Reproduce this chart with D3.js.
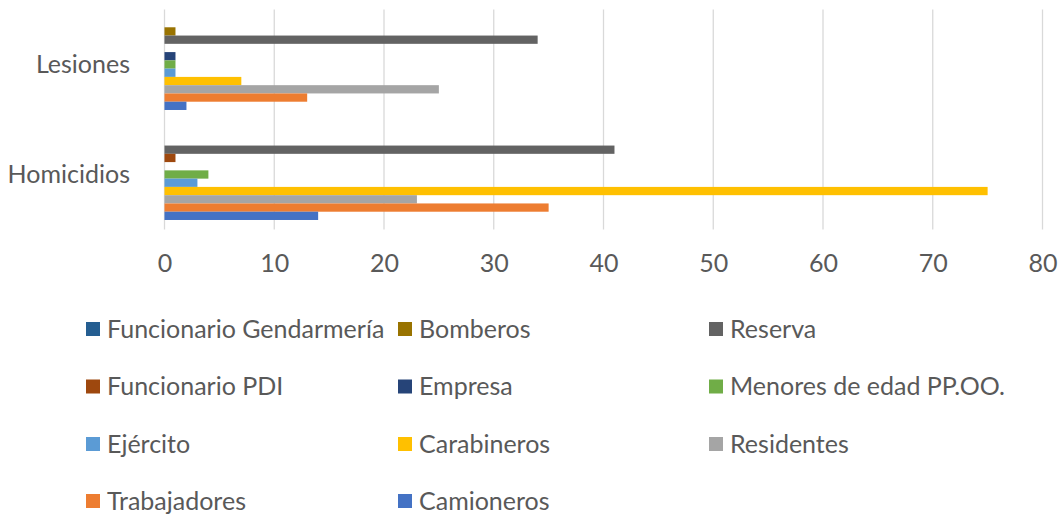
<!DOCTYPE html>
<html>
<head>
<meta charset="utf-8">
<script src="https://cdn.jsdelivr.net/npm/d3@7"></script>
<style>
  html, body { margin: 0; padding: 0; background: #ffffff; }
  svg { display: block; }
  text { font-family: Lato, "Open Sans", sans-serif; fill: #595959; }
</style>
</head>
<body>
<svg id="chart" width="1060" height="514"></svg>
<script>
// Categories, drawn top to bottom
const categories = ["Lesiones", "Homicidios"];

// Series, in the order they appear inside each group (top to bottom) and in the legend
const seriesNames = [
  "Funcionario Gendarmería", "Bomberos", "Reserva",
  "Funcionario PDI", "Empresa", "Menores de edad PP.OO.",
  "Ejército", "Carabineros", "Residentes",
  "Trabajadores", "Camioneros"
];

// Counts per series for each category
const lesiones   = [0, 1, 34, 0, 1, 1, 1, 7, 25, 13, 2];
const homicidios = [0, 0, 41, 1, 0, 4, 3, 75, 23, 35, 14];

const seriesColors = [
  "#255E91", "#997300", "#636363",
  "#9E480E", "#264478", "#70AD47",
  "#5B9BD5", "#FFC000", "#A5A5A5",
  "#ED7D31", "#4472C4"
];

const xTicks = [0, 10, 20, 30, 40, 50, 60, 70, 80];

const valuesByCategory = { "Lesiones": lesiones, "Homicidios": homicidios };

const svg = d3.select("#chart");
const plot = { left: 164.5, right: 1042.5, top: 9.5, bottom: 229.5 };

const x = d3.scaleLinear().domain([0, 80]).range([plot.left, plot.right]);
const y = d3.scaleBand().domain(categories)
  .range([plot.top, plot.bottom])
  .paddingInner(0.173).paddingOuter(0.0865);
const ySeries = d3.scaleBand().domain(seriesNames).range([0, y.bandwidth()]);
const color = d3.scaleOrdinal().domain(seriesNames).range(seriesColors);

// Vertical gridlines
svg.append("g")
  .selectAll("line")
  .data(xTicks)
  .join("line")
  .attr("x1", d => x(d)).attr("x2", d => x(d))
  .attr("y1", plot.top).attr("y2", plot.bottom)
  .attr("stroke", "#D9D9D9").attr("stroke-width", 1.3);

// Bars
const groups = svg.append("g")
  .selectAll("g")
  .data(categories)
  .join("g")
  .attr("transform", c => `translate(0,${y(c)})`);

groups.selectAll("rect")
  .data(c => seriesNames.map((s, i) => ({ series: s, value: valuesByCategory[c][i] })))
  .join("rect")
  .attr("x", x(0))
  .attr("y", d => ySeries(d.series))
  .attr("width", d => x(d.value) - x(0))
  .attr("height", ySeries.bandwidth())
  .attr("fill", d => color(d.series));

// Category labels
svg.append("g")
  .selectAll("text")
  .data(categories)
  .join("text")
  .attr("x", 130)
  .attr("y", c => y(c) + y.bandwidth() / 2)
  .attr("dy", "0.35em")
  .attr("text-anchor", "end")
  .style("font-size", "25px")
  .text(c => c);

// Value axis labels
const xAxis = d3.axisBottom(x).tickValues(xTicks).tickSize(0).tickPadding(0);
const axisG = svg.append("g")
  .attr("transform", `translate(0,${plot.bottom})`)
  .call(xAxis);
axisG.select(".domain").remove();
axisG.selectAll("text")
  .attr("y", 42.5)
  .attr("dy", 0)
  .attr("fill", "#595959")
  .style("font-size", "25px")
  .style("font-family", "Lato, 'Open Sans', sans-serif");

// Legend: three columns, row-major
const legendCols = [86, 398, 709];
const legendRowY = [329, 386.5, 444, 501];
const legend = svg.append("g")
  .selectAll("g")
  .data(seriesNames)
  .join("g")
  .attr("transform", (s, i) => `translate(${legendCols[i % 3]},${legendRowY[Math.floor(i / 3)]})`);

legend.append("rect")
  .attr("x", 0).attr("y", -7)
  .attr("width", 14).attr("height", 14)
  .attr("fill", s => color(s));

legend.append("text")
  .attr("x", 21).attr("y", 0).attr("dy", "0.35em")
  .style("font-size", "25px")
  .text(s => s);
</script>
</body>
</html>
